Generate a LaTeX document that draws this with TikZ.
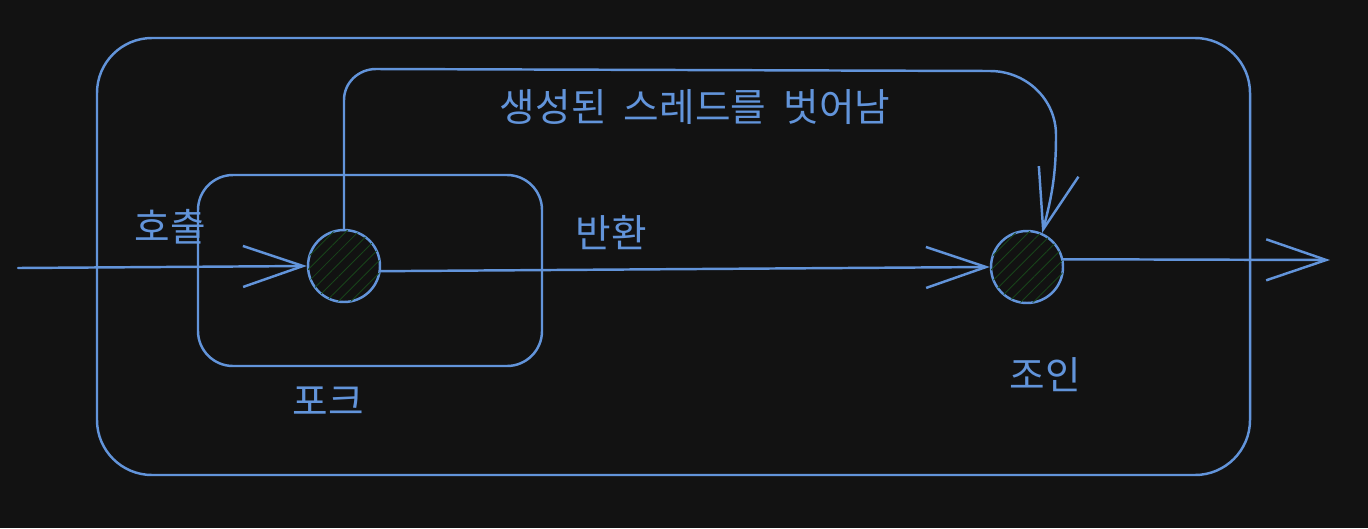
\documentclass[tikz,border=0pt]{standalone}
\usepackage{fontspec}
\newfontfamily\kofont{Noto Sans CJK KR}
\usetikzlibrary{arrows.meta}
\usetikzlibrary{patterns.meta}
\definecolor{bgdark}{RGB}{18,18,18}
\definecolor{sketchblue}{RGB}{98,148,218}
\definecolor{hatchgreen}{RGB}{24,68,26}

\tikzset{
  sketch/.style={draw=sketchblue, line width=1.4pt, line cap=round, line join=round},
  flow/.style={sketch, arrows={-Straight Barb[length=1.2cm, width=0.82cm, line width=1.4pt]}},
  state/.style={circle, sketch, minimum size=1.44cm, inner sep=0pt,
    fill=bgdark, postaction={pattern={Lines[angle=45, distance=5pt, line width=0.5pt]}, pattern color=hatchgreen}},
  lbl/.style={text=sketchblue, font=\kofont\fontsize{22}{26}\selectfont, inner sep=0pt}
}

\begin{document}
\begin{tikzpicture}[x=0.02cm, y=-0.02cm]
  \fill[bgdark] (0,0) rectangle (1368,528);
  \useasboundingbox (0,0) rectangle (1368,528);
  % frames
  \path[sketch, rounded corners=1.1cm] (97,38) rectangle (1250,475);
  \path[sketch, rounded corners=0.7cm] (198,175) rectangle (542,366);
  % states
  \node[state] (fork) at (344,266) {};
  \node[state] (join) at (1027,267) {};
  \coordinate (entry) at (18,268);
  \coordinate (exit) at (1330,260);
  % connectors
  \path[flow] (entry) -- (fork.west);
  \path[flow] (fork.-8) -- (join.west);
  \path[flow] (join.12) -- (exit);
  \path[flow] (fork.north) -- (344,100) to[out=90, in=180] (376,69) -- (990,71)
      to[out=0, in=90] (1056,135) to[out=-90, in=75] (join.66);
  % labels
  \node[lbl] (spawn) at (695,107) {생성된\ \ 스레드를\ \ 벗어남};
  \node[lbl] (call) at (170,227) {호출};
  \node[lbl] (ret) at (611,233) {반환};
  \node[lbl] (forklbl) at (328,401) {포크};
  \node[lbl] (joinlbl) at (1045,375) {조인};
\end{tikzpicture}
\end{document}
